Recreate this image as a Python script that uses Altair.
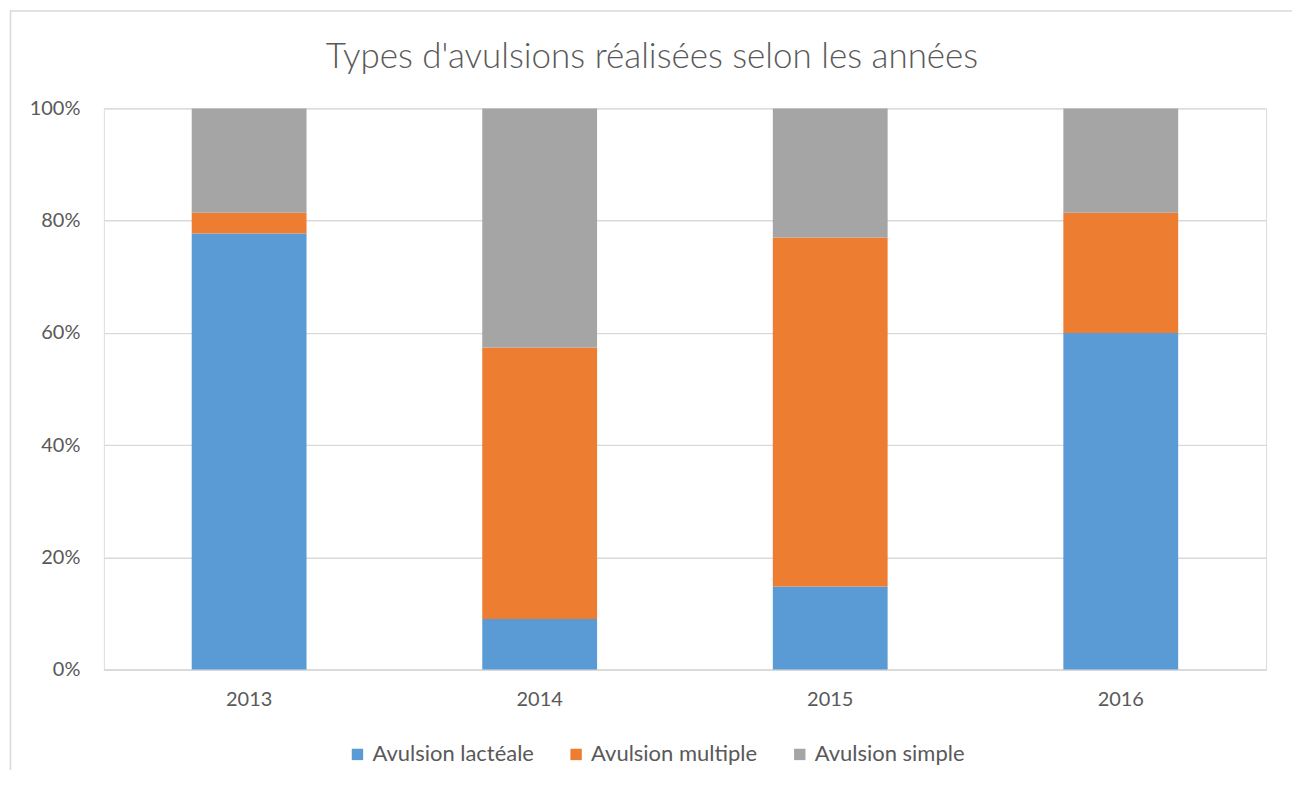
import altair as alt
import pandas as pd

title_text = "Types d'avulsions réalisées selon les années"
years = ["2013", "2014", "2015", "2016"]
series = ["Avulsion lactéale", "Avulsion multiple", "Avulsion simple"]
lacteale = [77.7, 9.0, 14.8, 60.0]
multiple = [3.7, 48.4, 62.2, 21.4]
simple = [18.6, 42.6, 23.0, 18.6]
colors = ["#5B9BD5", "#ED7D31", "#A5A5A5"]

rows = []
for i, y in enumerate(years):
    for k, (s, vals) in enumerate(zip(series, [lacteale, multiple, simple])):
        rows.append({"Année": y, "Type": s, "Valeur": vals[i], "ordre": k})
df = pd.DataFrame(rows)

FONT = "Lato"
GREY = "#595959"

bars = alt.Chart(df).mark_bar(size=115).encode(
    x=alt.X("Année:N", sort=years,
            scale=alt.Scale(paddingInner=0.605, paddingOuter=0.3025),
            axis=alt.Axis(title=None, labelAngle=0, labelFont=FONT, labelFontSize=20,
                          labelColor=GREY, ticks=False, domainColor="#D9D9D9",
                          domainWidth=1.5, labelPadding=20, grid=False)),
    y=alt.Y("Valeur:Q", stack="normalize",
            scale=alt.Scale(domain=[0, 1], nice=False),
            axis=alt.Axis(title=None, format="%", values=[0, 0.2, 0.4, 0.6, 0.8, 1.0],
                          labelFont=FONT, labelFontSize=20, labelColor=GREY,
                          ticks=False, domain=False, gridColor="#D9D9D9",
                          gridWidth=1.3, labelPadding=24)),
    color=alt.Color("Type:N", sort=series,
                    scale=alt.Scale(domain=series, range=colors),
                    legend=alt.Legend(title=None, orient="none", direction="horizontal",
                                      legendX=243, legendY=636, symbolType="square",
                                      symbolSize=130, symbolStrokeWidth=0,
                                      labelFont=FONT, labelFontSize=22, labelColor=GREY,
                                      labelLimit=400, columnPadding=31, labelOffset=4)),
    order=alt.Order("ordre:Q", sort="ascending"),
)

border = alt.Chart(pd.DataFrame({"a": [0]})).mark_rect(
    fill=None, stroke="#D9D9D9", strokeWidth=1.5
).encode(x=alt.value(-93.5), x2=alt.value(1192.5), y=alt.value(-97.5), y2=alt.value(700))

title = alt.Chart(pd.DataFrame({"t": [title_text]})).mark_text(
    font=FONT, fontSize=35, fontWeight=300, color=GREY, align="center", baseline="alphabetic"
).encode(text="t:N", x=alt.value(549), y=alt.value(-41))

chart = alt.layer(border, bars, title).properties(
    width=1164, height=562,
    autosize=alt.AutoSizeParams(type="none"),
    padding={"left": 96, "top": 100, "right": 26, "bottom": 100},
).configure_view(stroke=None).configure(background="white")

chart.save("out.html", embed_options={"renderer": "svg", "actions": False})
